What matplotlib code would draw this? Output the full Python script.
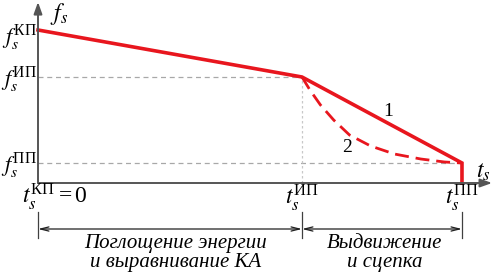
import matplotlib
matplotlib.use("Agg")
import matplotlib.pyplot as plt

plt.rcParams['mathtext.fontset'] = 'custom'
plt.rcParams['mathtext.rm'] = 'Liberation Serif'
plt.rcParams['mathtext.it'] = 'STIXGeneral:italic'
plt.rcParams['font.family'] = ['Liberation Serif', 'DejaVu Serif']

# characteristic moments (t) and forces (f), arbitrary units
t_kp, t_ip, t_pp = 0.0, 1.0, 1.606
f_kp, f_ip, f_pp = 1.53, 1.06, 0.20

# curve 1 (piecewise linear)
t1 = [t_kp, t_ip, t_pp, t_pp]
f1 = [f_kp, f_ip, f_pp, 0.0]

# curve 2 (dashed)
t2 = [1.0, 1.03, 1.07, 1.12, 1.18, 1.26, 1.35, 1.45, 1.54, 1.606]
f2 = [1.06, 0.93, 0.78, 0.63, 0.48, 0.37, 0.29, 0.24, 0.21, 0.20]

red = '#e8161e'
grey = '#a8a8a8'

fig = plt.figure(figsize=(4.93, 2.72), dpi=100)
ax = fig.add_axes([0, 0, 1, 1])
ax.set_xlim(-38 / 264, 455 / 264)
ax.set_ylim(-0.89, 1.83)
ax.axis('off')

# axes with arrows
ax.annotate('', xy=(0, 1.81), xytext=(0, 0),
            arrowprops=dict(arrowstyle='-|>,head_length=0.7,head_width=0.25',
                            color='#555555', lw=1.4, shrinkA=0, shrinkB=0))
ax.annotate('', xy=(1.72, 0), xytext=(0, 0),
            arrowprops=dict(arrowstyle='-|>,head_length=0.7,head_width=0.25',
                            color='#555555', lw=1.4, shrinkA=0, shrinkB=0))

# helper dashed lines
ax.plot([0, t_ip], [f_ip, f_ip], ls=(0, (4, 3)), color=grey, lw=0.9)
ax.plot([0, t_pp], [f_pp, f_pp], ls=(0, (4, 3)), color=grey, lw=0.9)
ax.plot([t_ip, t_ip], [0, f_ip], ls=(0, (2, 2)), color='#c8c8c8', lw=0.9)

# curves
ax.plot(t1, f1, color=red, lw=2.6, solid_joinstyle='miter')
ax.plot(t2, f2, color=red, lw=2.0, ls=(0, (5, 2.5)))

ax.text(1.325, 0.71, '1', fontsize=14, ha='center', va='center')
ax.text(1.17, 0.36, '2', fontsize=14, ha='center', va='center')

# labels
ax.text(0.045, 1.69, r'$f_s$', fontsize=17, ha='left', va='center')
ax.text(1.685, 0.11, r'$t_s$', fontsize=17, ha='center', va='center')
ax.text(-0.005, 1.45, r'$f_s^{\mathrm{КП}}$', fontsize=16, ha='right', va='center')
ax.text(-0.005, 1.03, r'$f_s^{\mathrm{ИП}}$', fontsize=16, ha='right', va='center')
ax.text(-0.005, 0.17, r'$f_s^{\mathrm{ПП}}$', fontsize=16, ha='right', va='center')
ax.text(-0.06, -0.14, r'$t_s^{\mathrm{КП}} = 0$', fontsize=17, ha='left', va='center')
ax.text(t_ip, -0.15, r'$t_s^{\mathrm{ИП}}$', fontsize=17, ha='center', va='center')
ax.text(t_pp, -0.15, r'$t_s^{\mathrm{ПП}}$', fontsize=17, ha='center', va='center')

# dimension lines
for t in [t_kp, t_ip, t_pp]:
    ax.plot([t, t], [-0.29, -0.55], color='#404040', lw=0.9)
dim_y = -0.46
for a, b in [(t_kp, t_ip), (t_ip, t_pp)]:
    ax.annotate('', xy=(a, dim_y), xytext=(b, dim_y),
                arrowprops=dict(arrowstyle='<->,head_length=0.6,head_width=0.15',
                                color='#202020', lw=0.9, shrinkA=0, shrinkB=0))

ax.text((t_kp + t_ip) / 2 + 0.02, -0.70, 'Поглощение энергии\nи выравнивание КА',
        fontsize=15, style='italic', family='Liberation Serif',
        ha='center', va='center', linespacing=0.95)
ax.text((t_ip + t_pp) / 2 + 0.01, -0.70, 'Выдвижение\nи сцепка',
        fontsize=15, style='italic', family='Liberation Serif',
        ha='center', va='center', linespacing=0.95)

fig.savefig('out.png', dpi=100)
